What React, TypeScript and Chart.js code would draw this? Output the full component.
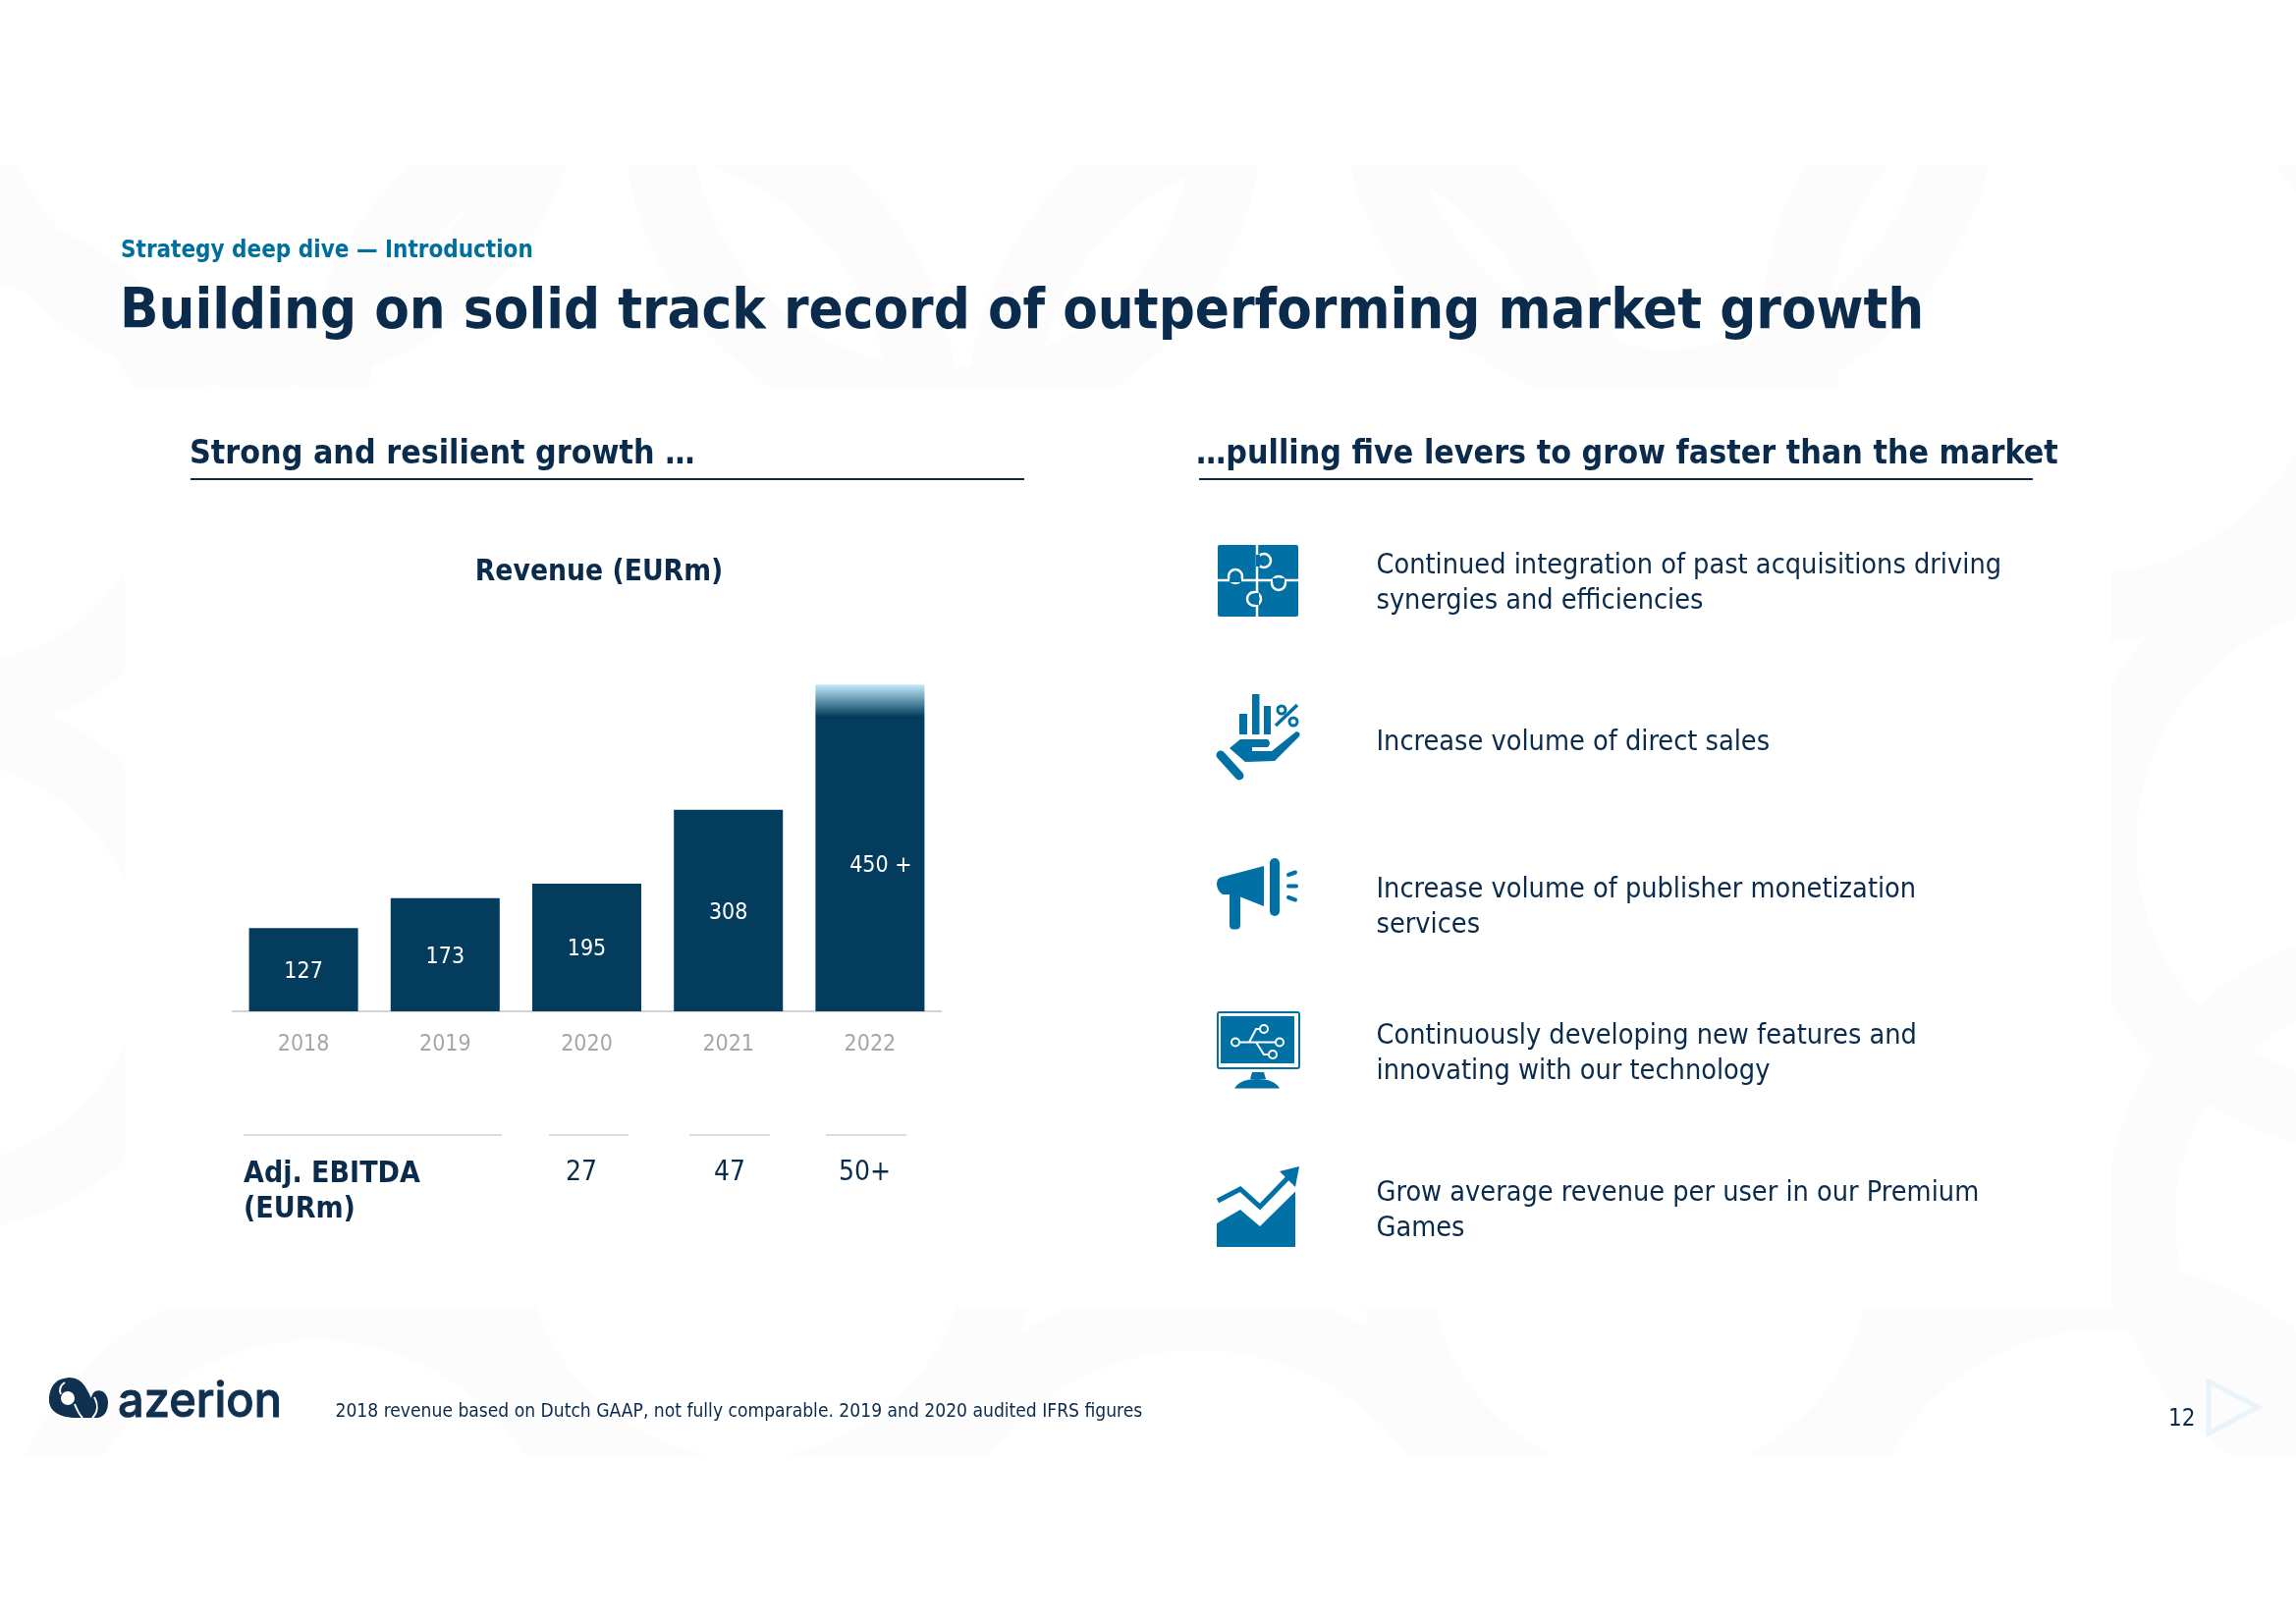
import React, { useEffect, useRef } from "react";
import { Chart, registerables } from "chart.js";

Chart.register(...registerables);

const years = ["2018", "2019", "2020", "2021", "2022"];
const revenue = [127, 173, 195, 308, 450];
const revenueLabels = ["127", "173", "195", "308", "450 +"];
const outlook = [0, 0, 0, 0, 49];
const ebitdaValues = ["27", "47", "50+"];
const levers = [
  ["Continued integration of past acquisitions driving", "synergies and efficiencies"],
  ["Increase volume of direct sales"],
  ["Increase volume of publisher monetization", "services"],
  ["Continuously developing new features and", "innovating with our technology"],
  ["Grow average revenue per user in our Premium", "Games"],
];

const FONT = '"DejaVu Sans Condensed", "DejaVu Sans", sans-serif';
const NAVY = "#0b2b4c";
const BAR = "#033c5c";
const TEAL = "#006f9f";
const ICON = "#0070a5";
const WM = "#fcfcfd";

const leverCenters = [[575, 611], [755], [905, 941], [1054, 1090], [1214, 1250]];
const ebitdaCenters = [592, 743, 880.5];
const ebitdaRules = [[248, 511], [559, 640], [702, 784], [841, 923]];

function T(p: { x: number; y: number; s: number; c: string; b?: boolean; center?: boolean; children: any; ls?: number }) {
  const h = p.s * 1.6;
  return (
    <div
      style={{
        position: "absolute",
        left: p.center ? p.x - 600 : p.x,
        width: p.center ? 1200 : undefined,
        textAlign: p.center ? "center" : "left",
        top: p.y - h / 2,
        height: h,
        lineHeight: h + "px",
        fontSize: p.s,
        fontFamily: FONT,
        fontWeight: p.b ? 700 : 400,
        color: p.c,
        letterSpacing: p.ls,
        whiteSpace: "pre",
      }}
    >
      {p.children}
    </div>
  );
}

function Watermark() {
  const rings: [number, number, number, number][] = [
    [260, 60, 300, 70], [640, 420, 300, 70], [960, 120, 290, 70], [1320, 420, 300, 70], [1700, 90, 300, 70], [2120, 330, 290, 70],
    [-40, 480, 230, 70], [-60, 980, 240, 70], [2420, 860, 280, 70], [2440, 1240, 260, 70],
    [320, 1620, 290, 70], [760, 1260, 260, 70], [1220, 1640, 300, 70], [1680, 1280, 260, 70], [2140, 1600, 280, 70],
  ];
  return (
    <svg width={2338} height={1653} style={{ position: "absolute", left: 0, top: 0 }}>
      <defs>
        <clipPath id="wm">
          <path d="M0 168H2338V1482H0Z M127 395V1332H2150V395Z" clipRule="evenodd" />
        </clipPath>
      </defs>
      <g clipPath="url(#wm)" fill="none" stroke={WM}>
        {rings.map((r, i) => (
          <circle key={i} cx={r[0]} cy={r[1]} r={r[2]} strokeWidth={r[3]} />
        ))}
      </g>
    </svg>
  );
}

function Icons() {
  const knob = (x: number, y: number, d: string) => (
    <g>
      <circle cx={x} cy={y} r={7} fill={ICON} stroke="#fff" strokeWidth={2.5} />
      <path d={d} stroke={ICON} strokeWidth={4} />
    </g>
  );
  return (
    <svg width={2338} height={1653} style={{ position: "absolute", left: 0, top: 0 }}>
      {/* puzzle */}
      <rect x={1240} y={555} width={82} height={73} rx={2} fill={ICON} />
      <path d="M1280 555V628M1240 591H1322" stroke="#fff" strokeWidth={2.5} />
      {knob(1287, 571, "M1281 565V577")}
      {knob(1258, 587, "M1252 591H1264")}
      {knob(1302, 594, "M1296 591H1308")}
      {knob(1277, 610, "M1280 604V616")}
      {/* hand */}
      <g fill={ICON}>
        <rect x={1262} y={727} width={8} height={21} />
        <rect x={1275} y={707} width={7.5} height={41} />
        <rect x={1287} y={719} width={7} height={29} />
        <path d="M1252 762L1263 753H1291Q1295 757 1291 761H1275V765H1295L1320 745Q1325 746 1323 750L1298 775L1268 776Z" />
      </g>
      <path d="M1243 769L1262 790" stroke={ICON} strokeWidth={9} strokeLinecap="round" />
      <path d="M1321 718L1299 739" stroke={ICON} strokeWidth={3.5} />
      <circle cx={1305} cy={723} r={4} fill="none" stroke={ICON} strokeWidth={3} />
      <circle cx={1317} cy={735} r={4} fill="none" stroke={ICON} strokeWidth={3} />
      {/* megaphone */}
      <g fill={ICON}>
        <path d="M1245 893L1287 882V923L1263 913.5V942Q1263 946.5 1259 946.5H1256Q1252 946.5 1252 942V911H1245Q1239 907 1239 900Q1239 894 1245 893Z" />
        <rect x={1293} y={874} width={10} height={59} rx={5} />
      </g>
      <path d="M1312 891L1319 888.5M1312 902.5H1320M1312 914L1319 916.5" stroke={ICON} strokeWidth={4} strokeLinecap="round" />
      {/* monitor */}
      <rect x={1240} y={1031} width={83} height={57} rx={2} fill="none" stroke={ICON} strokeWidth={2} />
      <rect x={1243} y={1035} width={75} height={48} fill={ICON} />
      <path d="M1275 1092H1287L1289 1099H1273Z" fill={ICON} />
      <path d="M1257 1108.6Q1262 1099 1280 1099Q1298 1099 1303 1108.6Z" fill={ICON} />
      <path d="M1263 1061.5H1298M1272 1061.5L1279 1048H1283M1279 1061.5L1287 1074H1291" fill="none" stroke="#fff" strokeWidth={2} />
      {[[1258, 1061.5], [1287, 1048], [1296, 1074], [1303, 1061.5]].map((c, i) => (
        <circle key={i} cx={c[0]} cy={c[1]} r={4} fill={ICON} stroke="#fff" strokeWidth={2} />
      ))}
      {/* trend */}
      <path d="M1239 1246L1263 1232L1283 1249L1319 1213.5V1270H1239Z" fill={ICON} />
      <path d="M1240 1223L1263 1211L1283 1229L1312 1199" fill="none" stroke={ICON} strokeWidth={5} />
      <path d="M1323 1188L1303 1193L1319 1209Z" fill={ICON} />
      {/* logo */}
      <path d="M65 1404C53 1406 50 1418 50 1426C50 1438 62 1444 78 1444H100C108 1442 110 1435 110 1428C110 1419 103 1414 97 1417C94 1419 93 1423 93 1424C88 1414 84 1403 70 1403Z" fill="#10304f" />
      <circle cx={69} cy={1424} r={7} fill="#fff" />
      <path d="M66 1408C61 1411 60 1416 62 1420M76 1430C78 1435 80 1440 84 1444M96 1423C100 1430 100 1438 94 1444" fill="none" stroke="#fff" strokeWidth={2} />
      <text x={120} y={1443} fontFamily="Inter, sans-serif" fontSize={50} fontWeight={500} fill="#10304f" stroke="#10304f" strokeWidth={1} strokeLinejoin="round" textLength={167} lengthAdjust="spacingAndGlyphs">azerion</text>
      {/* page marker */}
      <path d="M2249 1407L2299 1433L2249 1460Z" fill="none" stroke="#e9f3fa" strokeWidth={5} />
    </svg>
  );
}

export default function App() {
  const ref = useRef<HTMLCanvasElement>(null);
  useEffect(() => {
    const valueLabels = {
      id: "valueLabels",
      afterDatasetsDraw(chart: any) {
        const { ctx } = chart;
        const meta = chart.getDatasetMeta(0);
        ctx.save();
        ctx.fillStyle = "#ffffff";
        ctx.font = `23px ${FONT}`;
        ctx.textAlign = "center";
        ctx.textBaseline = "middle";
        meta.data.forEach((el: any, i: number) => {
          ctx.fillText(revenueLabels[i], el.x + (i === 4 ? 11 : 0), (el.y + el.base) / 2 + 2.5);
        });
        ctx.restore();
      },
    };
    const chart = new Chart(ref.current!, {
      type: "bar",
      data: {
        labels: years,
        datasets: [
          { data: revenue, backgroundColor: BAR, barPercentage: 1, categoryPercentage: 0.77, stack: "a" },
          {
            data: outlook,
            barPercentage: 1,
            categoryPercentage: 0.77,
            stack: "a",
            backgroundColor: (c: any) => {
              const y = c.chart.scales?.y;
              const top = y ? y.getPixelForValue(499) : NaN;
              const bottom = y ? y.getPixelForValue(450) : NaN;
              if (!Number.isFinite(top) || !Number.isFinite(bottom)) return BAR;
              const g = c.chart.ctx.createLinearGradient(0, top, 0, bottom);
              g.addColorStop(0, "#c0eafc");
              g.addColorStop(1, BAR);
              return g;
            },
          },
        ],
      },
      options: {
        animation: false,
        responsive: false,
        layout: { padding: { left: 237, right: 1380, top: 630, bottom: 563 } },
        plugins: { legend: { display: false }, tooltip: { enabled: false } },
        scales: {
          x: {
            stacked: true,
            grid: { display: false, drawTicks: false },
            border: { color: "#d4d4d4", width: 2 },
            afterFit: (s: any) => { s.height = 60; },
            ticks: { color: "#a6a6a6", padding: 20, maxRotation: 0, font: { family: FONT, size: 23 } },
          },
          y: { stacked: true, display: false, min: 0, max: 600 },
        },
      },
      plugins: [valueLabels],
    } as any);
    return () => chart.destroy();
  }, []);

  return (
    <div style={{ position: "absolute", left: 0, top: 0, width: 2338, height: 1653, overflow: "hidden", background: "#fff" }}>
      <Watermark />
      <canvas ref={ref} width={2338} height={1653} style={{ position: "absolute", left: 0, top: 0 }} />
      <Icons />
      <T x={123} y={254} s={24} c={TEAL} b>Strategy deep dive — Introduction</T>
      <T x={122} y={314} s={57.7} c={NAVY} b>Building on solid track record of outperforming market growth</T>
      <T x={193} y={461} s={33.7} c={NAVY} b>Strong and resilient growth …</T>
      <T x={1218} y={461} s={33.7} c={NAVY} b>…pulling five levers to grow faster than the market</T>
      <div style={{ position: "absolute", left: 194, top: 487, width: 849, height: 2, background: NAVY }} />
      <div style={{ position: "absolute", left: 1221, top: 487, width: 849, height: 2, background: NAVY }} />
      <T x={610} y={581} s={29.7} c={NAVY} b center>Revenue (EURm)</T>
      {ebitdaRules.map((r, i) => (
        <div key={i} style={{ position: "absolute", left: r[0], top: 1155, width: r[1] - r[0], height: 1.5, background: "#dcdcdc" }} />
      ))}
      <T x={248} y={1194} s={30} c={NAVY} b>Adj. EBITDA</T>
      <T x={248} y={1230} s={30} c={NAVY} b>(EURm)</T>
      {ebitdaValues.map((v, i) => (
        <T key={v} x={ebitdaCenters[i]} y={1193} s={28} c={NAVY} center>{v}</T>
      ))}
      {levers.map((lines, i) =>
        lines.map((line, j) => (
          <T key={line} x={1401.5} y={leverCenters[i][j]} s={28.6} c={NAVY}>{line}</T>
        ))
      )}
      <T x={341.5} y={1437} s={19.1} c={NAVY}>2018 revenue based on Dutch GAAP, not fully comparable. 2019 and 2020 audited IFRS figures</T>
      <T x={2208} y={1444} s={24} c={NAVY}>12</T>
    </div>
  );
}
